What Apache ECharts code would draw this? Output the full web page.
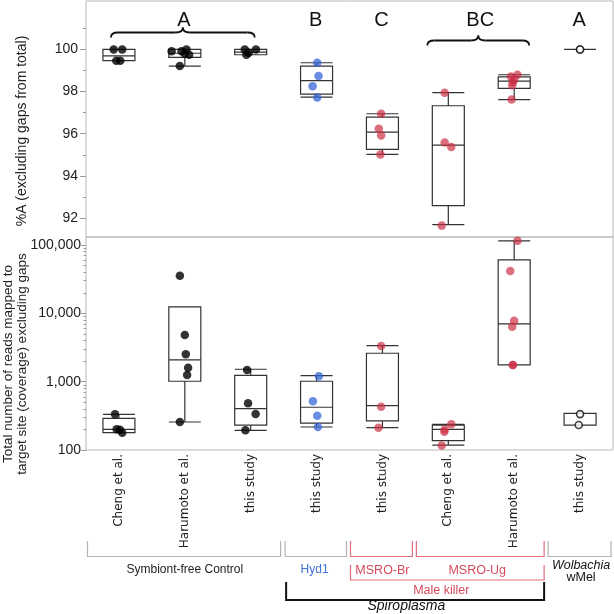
<!DOCTYPE html>
<html><head><meta charset="utf-8">
<script src="https://cdn.jsdelivr.net/npm/echarts@6/dist/echarts.min.js"></script>
<style>html,body{margin:0;padding:0;background:#fff}#c{width:614px;height:614px}</style>
</head><body><div id="c"></div>
<script>
// ---------- data ----------
const categories = ['Cheng et al.', 'Harumoto et al.', 'this study', 'this study', 'this study', 'Cheng et al.', 'Harumoto et al.', 'this study'];
const pointKind = ['ctrl', 'ctrl', 'ctrl', 'hyd', 'mk', 'mk', 'mk', 'wol'];

// %A (excluding gaps from total): box stats [min, Q1, median, Q3, max]
const pctBoxes = [
  [99.47, 99.47, 99.7, 100, 100],
  [99.21, 99.62, 99.82, 100, 100],
  [99.75, 99.75, 99.87, 100, 100],
  [97.74, 97.88, 98.52, 99.21, 99.37],
  [95.02, 95.26, 96.08, 96.79, 96.95],
  [91.69, 92.59, 95.46, 97.33, 97.95],
  [97.62, 98.15, 98.5, 98.7, 98.8],
  [100, 100, 100, 100, 100]
];
const pctPoints = [
  [100, 100, 99.47, 99.47],
  [99.92, 99.92, 100, 99.8, 99.75, 99.21],
  [100, 100, 99.75, 99.85],
  [99.37, 98.74, 98.26, 97.72],
  [96.95, 96.24, 95.92, 95.02],
  [97.95, 95.58, 95.37, 91.64],
  [98.8, 98.72, 98.56, 98.45, 98.3, 97.62],
  [100, 100]
];
const pctJitter = [
  [-0.08, 0.05, -0.04, 0.02],
  [-0.2, -0.05, 0.025, 0, 0.065, -0.076],
  [-0.09, 0.08, -0.065, -0.03],
  [0.01, 0.03, -0.06, 0.01],
  [-0.02, -0.055, -0.02, -0.03],
  [-0.055, -0.055, 0.045, -0.1],
  [0.05, -0.05, 0.0, -0.02, -0.03, -0.04],
  [0, 0]
];

// Total number of reads mapped (coverage): box stats [min, Q1, median, Q3, max]
const covBoxes = [
  [179, 179, 201, 291, 333],
  [257, 1014, 2080, 12400, 12400],
  [194, 232, 403, 1240, 1520],
  [217, 248, 422, 1014, 1224],
  [212, 266, 446, 2605, 3365],
  [118, 137, 201, 232, 238],
  [1756, 1756, 6990, 60500, 115000],
  [232, 232, 232, 344, 344]
];
const covPoints = [
  [333, 201, 198, 179],
  [35600, 4830, 2520, 1600, 1250, 257],
  [1480, 483, 337, 194],
  [1200, 516, 318, 217],
  [3340, 430, 212],
  [238, 200, 185, 116],
  [115000, 41800, 7820, 6390, 1756, 1756],
  [335, 232]
];
const covJitter = [
  [-0.06, -0.035, 0.015, 0.05],
  [-0.075, 0, 0.015, 0.05, 0.035, -0.075],
  [-0.055, -0.04, 0.075, -0.08],
  [0.035, -0.055, 0.01, 0.02],
  [-0.02, -0.02, -0.06],
  [0.045, -0.055, -0.06, -0.1],
  [0.05, -0.06, 0, -0.03, -0.02, -0.02],
  [0, -0.02]
];

const pctTicks = [92, 94, 96, 98, 100];
const pctMinorTicks = [93, 95, 97, 99, 101];
const covTicks = [100, 1000, 10000, 100000];
const covMinorTicks = [200,300,400,500,600,700,800,900,2000,3000,4000,5000,6000,7000,8000,9000,20000,30000,40000,50000,60000,70000,80000,90000];

const letters = ['A', 'B', 'C', 'BC', 'A'];
const letterAt = [1, 3, 4, 5.5, 7];

// ---------- chart ----------
const chart = echarts.init(document.getElementById('c'), null, {renderer: 'canvas'});
const L = Math.log10;
const kindStyle = {
  ctrl: {color: '#000000'},
  hyd: {color: 'rgba(52,100,214,0.92)'},
  mk: {color: 'rgba(204,44,66,0.85)'},
  wol: {color: '#ffffff', borderColor: '#111', borderWidth: 1.6}
};
function buildPoints(vals, jit, tf) {
  const out = [];
  vals.forEach((arr, i) => arr.forEach((v, j) => {
    const k = pointKind[i];
    out.push({value: [i + jit[i][j], tf(v)], itemStyle: kindStyle[k], symbolSize: k === 'wol' ? 7 : 8.5});
  }));
  return out;
}
const GL = 86, GW = 527;
const tickColor = '#9a9a9a';
const labelFont = {fontFamily: 'Liberation Sans, Arial, sans-serif', fontSize: 14, color: '#222'};
const noLine = {show: false, onZero: false};

const option = {
  animation: false,
  backgroundColor: '#fff',
  grid: [
    {left: GL, top: 1, width: GW, height: 236, show: true, borderColor: '#b8b8b8', borderWidth: 1},
    {left: GL, top: 237, width: GW, height: 213, show: true, borderColor: '#b8b8b8', borderWidth: 1}
  ],
  xAxis: [
    {type: 'category', gridIndex: 0, data: categories, axisLine: noLine, axisTick: {show: false}, axisLabel: {show: false}},
    {type: 'category', gridIndex: 1, data: categories, axisLine: noLine, axisTick: {show: false},
      axisLabel: {rotate: 90, margin: 4, fontFamily: 'DejaVu Sans, sans-serif', fontSize: 12, color: '#222', interval: 0}},
    {type: 'value', gridIndex: 0, min: -0.5, max: 7.5, show: false, axisLine: noLine},
    {type: 'value', gridIndex: 1, min: -0.5, max: 7.5, show: false, axisLine: noLine}
  ],
  yAxis: [
    {type: 'value', gridIndex: 0, position: 'left', min: 91.1, max: 102.3, splitLine: {show: false}, axisLine: noLine,
      axisTick: {show: true, length: 6, customValues: pctTicks, lineStyle: {color: tickColor}},
      axisLabel: Object.assign({margin: 8, customValues: pctTicks}, labelFont)},
    {type: 'value', gridIndex: 0, position: 'left', min: 91.1, max: 102.3, splitLine: {show: false}, axisLine: noLine,
      axisTick: {show: true, length: 3, customValues: pctMinorTicks, lineStyle: {color: tickColor}},
      axisLabel: {show: false}},
    {type: 'value', gridIndex: 1, position: 'left', min: 2, max: L(131000), splitLine: {show: false}, axisLine: noLine,
      axisTick: {show: true, length: 5, customValues: covTicks.map(L), lineStyle: {color: tickColor}},
      axisLabel: Object.assign({margin: 5, customValues: covTicks.map(L),
        formatter: v => Math.round(Math.pow(10, v)).toLocaleString('en-US')}, labelFont)},
    {type: 'value', gridIndex: 1, position: 'left', min: 2, max: L(131000), splitLine: {show: false}, axisLine: noLine,
      axisTick: {show: true, length: 2.5, customValues: covMinorTicks.map(L), lineStyle: {color: tickColor}},
      axisLabel: {show: false}}
  ],
  series: [
    {type: 'boxplot', xAxisIndex: 0, yAxisIndex: 0, data: pctBoxes, boxWidth: [32, 32], silent: true,
      itemStyle: {color: 'rgba(255,255,255,0)', borderColor: '#333', borderWidth: 1.2}},
    {type: 'boxplot', xAxisIndex: 1, yAxisIndex: 2, data: covBoxes.map(b => b.map(L)), boxWidth: [32, 32], silent: true,
      itemStyle: {color: 'rgba(255,255,255,0)', borderColor: '#333', borderWidth: 1.2}},
    {type: 'scatter', xAxisIndex: 2, yAxisIndex: 0, z: 5, silent: true, data: buildPoints(pctPoints, pctJitter, v => v)},
    {type: 'scatter', xAxisIndex: 3, yAxisIndex: 2, z: 5, silent: true, data: buildPoints(covPoints, covJitter, L)}
  ]
};
chart.setOption(option);

// ---------- annotations ----------
const X = v => chart.convertToPixel({xAxisIndex: 3}, v);
const edge = i => X(i - 0.5);
const g = [];
function bracketUp(xl, xr, yTop, yBot, color, lw) {
  g.push({type: 'polyline', silent: true, shape: {points: [[xl, yTop], [xl, yBot], [xr, yBot], [xr, yTop]]},
    style: {stroke: color, lineWidth: lw, fill: null}});
}
function txt(x, y, text, color, size, italic) {
  g.push({type: 'text', silent: true, x: x, y: y, style: {text: text, fill: color, font: (italic ? 'italic ' : '') + size + 'px "Liberation Sans", Arial, sans-serif', align: 'center', verticalAlign: 'middle'}});
}
function brace(x1, x2, y, h, lw) {
  const xm = (x1 + x2) / 2, r = 7;
  const s = {stroke: '#111', lineWidth: lw, fill: null};
  g.push({type: 'bezierCurve', silent: true, shape: {x1: x1, y1: y + h, cpx1: x1, cpy1: y, x2: x1 + r, y2: y}, style: s});
  g.push({type: 'line', silent: true, shape: {x1: x1 + r, y1: y, x2: xm - r, y2: y}, style: s});
  g.push({type: 'bezierCurve', silent: true, shape: {x1: xm - r, y1: y, cpx1: xm, cpy1: y, x2: xm, y2: y - h}, style: s});
  g.push({type: 'bezierCurve', silent: true, shape: {x1: xm, y1: y - h, cpx1: xm, cpy1: y, x2: xm + r, y2: y}, style: s});
  g.push({type: 'line', silent: true, shape: {x1: xm + r, y1: y, x2: x2 - r, y2: y}, style: s});
  g.push({type: 'bezierCurve', silent: true, shape: {x1: x2 - r, y1: y, cpx1: x2, cpy1: y, x2: x2, y2: y + h}, style: s});
}
// significance letters + braces
letters.forEach((t, i) => txt(X(letterAt[i]) - 1, 20.5, t, '#111', 20, false));
brace(X(0) - 8, X(2) + 4, 32.5, 5, 1.8);
brace(X(5) - 21, X(6) + 15, 40.5, 5, 1.8);

// group brackets
const gray = '#b3b3b3', red = '#e0707e', redTxt = '#d64a5e', blue = '#3f6fd8';
bracketUp(edge(0) + 1.5, edge(3) - 3, 541, 556.5, gray, 1.2);
bracketUp(edge(3) + 1.5, edge(4) - 3, 541, 556.5, gray, 1.2);
bracketUp(edge(4) + 1, edge(5) - 3, 541, 556.5, red, 1.2);
bracketUp(edge(5) + 1, edge(7) - 3, 541, 556.5, red, 1.2);
bracketUp(edge(7) + 1, edge(8) - 2, 541, 556.5, gray, 1.2);
bracketUp(edge(4) + 1, edge(7) - 3, 565, 580, red, 1.2);
bracketUp(edge(3) + 2.5, edge(7) - 3, 582, 600, '#111', 2);

txt((edge(0) + edge(3)) / 2, 570, 'Symbiont-free Control', '#222', 12, false);
txt((edge(3) + edge(4)) / 2 - 2, 570, 'Hyd1', blue, 12, false);
txt((edge(4) + edge(5)) / 2, 571, 'MSRO-Br', redTxt, 12.5, false);
txt((edge(5) + edge(7)) / 2 - 4, 571, 'MSRO-Ug', redTxt, 12.5, false);
txt((edge(4) + edge(7)) / 2 - 7, 591, 'Male killer', redTxt, 12.5, false);
txt((edge(3) + edge(7)) / 2 - 9, 606, 'Spiroplasma', '#111', 14, true);
txt(X(7) + 1, 566, 'Wolbachia', '#111', 12.5, true);
txt(X(7) + 1, 577.5, 'wMel', '#111', 12.5, false);

// y-axis titles
g.push({type: 'text', silent: true, x: 22, y: 131, rotation: Math.PI / 2,
  style: {text: '%A (excluding gaps from total)', fill: '#222', font: '14px "Liberation Sans", Arial, sans-serif', align: 'center', verticalAlign: 'middle'}});
g.push({type: 'text', silent: true, x: 8.5, y: 364, rotation: Math.PI / 2,
  style: {text: 'Total number of reads mapped to', fill: '#222', font: '13.5px "Liberation Sans", Arial, sans-serif', align: 'center', verticalAlign: 'middle'}});
g.push({type: 'text', silent: true, x: 22, y: 364, rotation: Math.PI / 2,
  style: {text: 'target site (coverage) excluding gaps', fill: '#222', font: '13.5px "Liberation Sans", Arial, sans-serif', align: 'center', verticalAlign: 'middle'}});

chart.setOption({graphic: {elements: g}});
</script>
</body></html>
